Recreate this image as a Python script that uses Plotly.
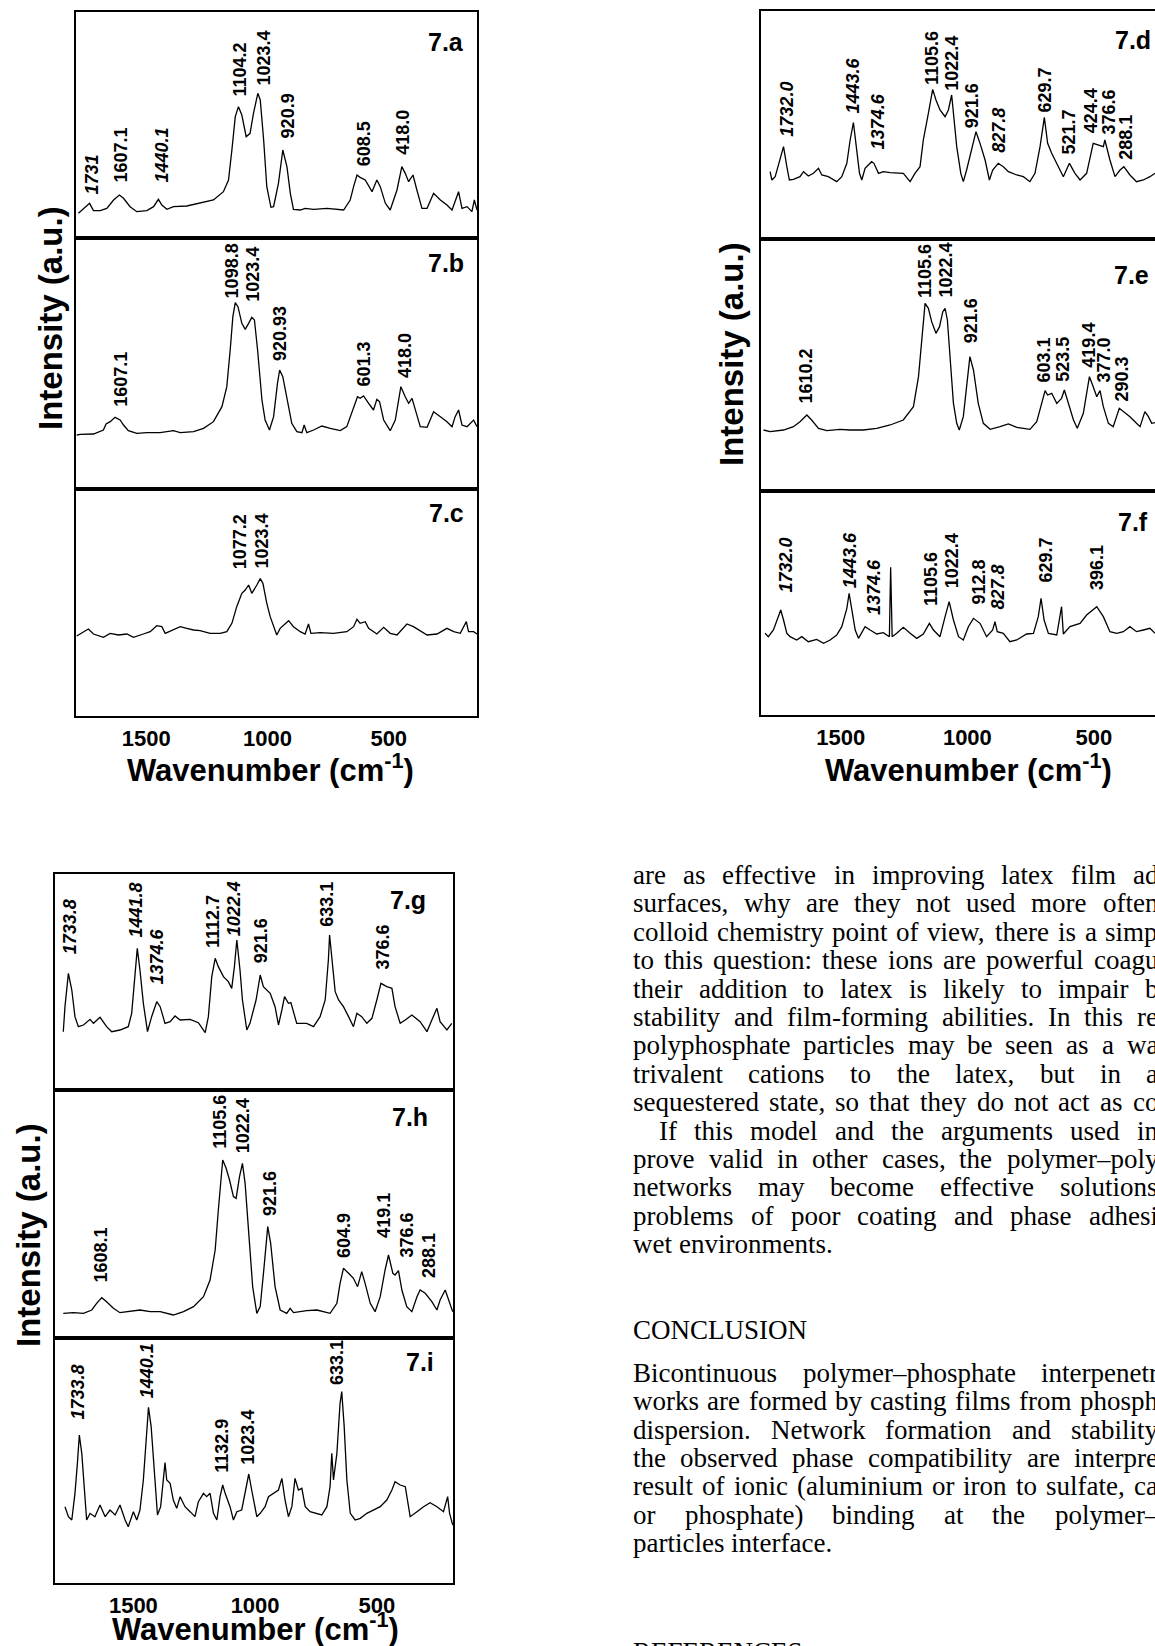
import plotly.graph_objects as go

# ---------------- spectra data (wavenumber, intensity a.u.) ----------------
A_WN = [1780, 1734, 1718, 1690, 1663, 1649, 1635, 1611, 1594, 1567, 1539, 1498, 1470, 1450, 1436, 1415, 1388, 1333, 1278, 1223,
        1182, 1161, 1147, 1133, 1120, 1106, 1088, 1072, 1058, 1040, 1030, 1016, 1003, 986, 975, 955, 937, 920, 906, 893,
        865, 845, 810, 755, 686, 659, 645, 631, 618, 597, 569, 549, 535, 514, 494, 466, 446, 432, 418, 400,
        384, 363, 342, 315, 287, 260, 239, 226, 212, 198, 177, 157, 147, 136]
A_INT = [74, 104, 82, 82, 89, 102, 114, 129, 119, 94, 79, 82, 94, 116, 99, 86, 94, 96, 104, 114,
         139, 174, 264, 364, 394, 369, 304, 314, 374, 434, 414, 294, 154, 92, 94, 164, 264, 214, 134, 86,
         84, 89, 86, 89, 84, 114, 154, 189, 182, 174, 139, 174, 154, 104, 84, 144, 214, 194, 169, 189,
         144, 89, 89, 134, 114, 99, 84, 114, 139, 89, 94, 79, 114, 84]

B_WN = [1787, 1773, 1718, 1677, 1666, 1649, 1629, 1608, 1594, 1574, 1539, 1498, 1443, 1388, 1360, 1305, 1264, 1223, 1188, 1168,
        1154, 1143, 1133, 1122, 1106, 1092, 1078, 1065, 1054, 1041, 1023, 1010, 992, 975, 959, 950, 937, 920, 900, 879,
        858, 849, 838, 810, 776, 741, 700, 673, 645, 629, 618, 604, 583, 563, 549, 538, 521, 494, 473, 459,
        450, 432, 418, 404, 391, 370, 342, 315, 287, 260, 239, 226, 212, 198, 177, 150, 136]
B_INT = [162, 164, 165, 177, 195, 202, 215, 207, 192, 175, 167, 169, 169, 175, 169, 172, 182, 202, 247, 307,
         417, 517, 559, 547, 497, 479, 497, 515, 507, 417, 267, 207, 177, 217, 317, 357, 337, 267, 197, 172,
         169, 192, 169, 177, 189, 182, 175, 187, 247, 277, 272, 279, 257, 237, 269, 262, 207, 175, 207, 277,
         307, 277, 257, 272, 237, 187, 185, 232, 217, 202, 187, 217, 237, 192, 187, 207, 187]

C_WN = [1787, 1773, 1739, 1718, 1677, 1649, 1615, 1580, 1553, 1512, 1484, 1457, 1436, 1422, 1388, 1360, 1333, 1305, 1278, 1237,
        1195, 1168, 1147, 1127, 1106, 1092, 1078, 1065, 1044, 1030, 1019, 1003, 989, 975, 962, 948, 913, 893, 865, 845,
        831, 821, 783, 728, 673, 645, 631, 618, 597, 583, 549, 521, 494, 466, 439, 425, 398, 370, 342, 301,
        260, 232, 205, 180, 171, 150, 136]
C_INT = [240, 246, 261, 246, 236, 248, 243, 246, 236, 246, 253, 271, 268, 248, 260, 268, 263, 258, 256, 248,
         248, 253, 278, 328, 368, 378, 393, 368, 393, 412, 398, 338, 298, 268, 243, 263, 286, 268, 253, 246,
         276, 248, 250, 248, 253, 268, 290, 278, 283, 263, 246, 266, 248, 243, 263, 276, 268, 256, 243, 246,
         263, 253, 248, 283, 253, 253, 246]

D_WN = [1779, 1772, 1759, 1746, 1726, 1713, 1703, 1687, 1661, 1647, 1628, 1608, 1588, 1575, 1549, 1516, 1496, 1476, 1463, 1450,
        1440, 1426, 1417, 1404, 1378, 1369, 1351, 1332, 1305, 1279, 1253, 1226, 1207, 1187, 1174, 1154, 1137, 1124, 1108, 1088,
        1075, 1062, 1053, 1042, 1026, 1016, 1003, 983, 966, 950, 930, 913, 900, 878, 858, 838, 805, 779, 753, 733,
        713, 696, 683, 667, 647, 621, 597, 575, 555, 529, 503, 483, 463, 457, 437, 417, 397, 382, 358, 332,
        305, 279, 259]
D_INT = [202, 177, 187, 222, 277, 217, 177, 179, 187, 202, 189, 197, 212, 192, 187, 172, 187, 227, 297, 349,
         287, 197, 177, 212, 232, 227, 197, 202, 199, 197, 197, 172, 197, 217, 297, 377, 449, 417, 387, 367,
         387, 432, 357, 277, 197, 172, 207, 272, 322, 287, 237, 177, 207, 227, 217, 202, 192, 187, 172, 197,
         277, 365, 287, 257, 227, 187, 227, 197, 177, 197, 287, 282, 277, 297, 237, 187, 207, 217, 192, 172,
         177, 187, 197]

E_WN = [1805, 1779, 1726, 1687, 1661, 1634, 1615, 1588, 1555, 1503, 1463, 1411, 1358, 1305, 1253, 1213, 1193, 1180, 1167, 1154,
        1141, 1124, 1110, 1097, 1088, 1079, 1068, 1055, 1042, 1032, 1016, 1003, 990, 976, 957, 937, 910, 871, 838, 805,
        753, 726, 706, 693, 683, 667, 647, 628, 617, 601, 581, 566, 542, 529, 518, 503, 489, 476, 463, 443,
        424, 400, 384, 358, 332, 318, 299, 285, 272, 259]
E_INT = [183, 178, 183, 193, 208, 228, 213, 188, 181, 185, 183, 183, 188, 198, 213, 253, 343, 453, 563, 548,
         508, 473, 493, 538, 548, 513, 403, 263, 203, 183, 223, 323, 403, 363, 263, 203, 185, 193, 201, 191,
         185, 208, 263, 301, 288, 293, 263, 278, 303, 263, 213, 188, 233, 293, 343, 313, 283, 301, 253, 203,
         193, 248, 238, 223, 203, 193, 238, 223, 203, 205]

F_WN = [1799, 1786, 1766, 1753, 1737, 1726, 1713, 1700, 1674, 1654, 1628, 1595, 1568, 1542, 1516, 1496, 1476, 1467, 1457, 1443,
        1430, 1404, 1384, 1358, 1332, 1308, 1303, 1297, 1279, 1253, 1226, 1200, 1174, 1150, 1134, 1108, 1088, 1072, 1055, 1035,
        1016, 996, 976, 950, 924, 900, 891, 882, 858, 832, 805, 766, 739, 720, 709, 697, 680, 647, 628, 621,
        595, 555, 529, 489, 463, 437, 410, 384, 358, 332, 305, 279, 259]
F_INT = [245, 235, 255, 280, 315, 285, 245, 235, 225, 235, 220, 227, 215, 225, 240, 265, 320, 365, 315, 255,
         230, 265, 255, 243, 247, 235, 443, 235, 245, 263, 245, 230, 243, 275, 255, 235, 295, 340, 285, 235,
         225, 265, 290, 275, 235, 255, 280, 250, 245, 220, 225, 243, 245, 295, 350, 285, 245, 240, 325, 243,
         265, 275, 300, 325, 295, 250, 245, 250, 265, 250, 255, 260, 245]

G_WN = [1788, 1781, 1767, 1753, 1740, 1726, 1705, 1678, 1664, 1637, 1610, 1589, 1555, 1521, 1507, 1493, 1484, 1473, 1459, 1442,
        1425, 1404, 1390, 1370, 1349, 1329, 1308, 1267, 1233, 1205, 1192, 1178, 1164, 1151, 1130, 1110, 1096, 1085, 1075, 1062,
        1052, 1034, 1021, 996, 979, 966, 938, 918, 904, 890, 879, 863, 853, 829, 788, 760, 733, 712, 699, 694,
        685, 671, 657, 637, 616, 596, 582, 562, 541, 520, 500, 483, 459, 438, 425, 404, 383, 356, 322, 294,
        274, 253, 240, 212, 192]
G_INT = [175, 250, 350, 300, 220, 190, 195, 212, 200, 218, 190, 175, 180, 190, 230, 340, 425, 360, 260, 175,
         220, 265, 250, 200, 205, 222, 210, 212, 202, 172, 220, 340, 395, 370, 340, 325, 305, 370, 450, 360,
         270, 180, 200, 270, 345, 310, 290, 250, 195, 240, 280, 260, 262, 200, 200, 190, 220, 270, 390, 465,
         390, 295, 270, 250, 220, 190, 230, 220, 200, 215, 270, 320, 310, 305, 250, 200, 210, 225, 205, 175,
         210, 245, 205, 180, 200]

H_WN = [1788, 1747, 1705, 1671, 1651, 1630, 1610, 1582, 1555, 1514, 1473, 1431, 1390, 1336, 1294, 1253, 1212, 1185, 1164, 1151,
        1133, 1119, 1105, 1089, 1078, 1064, 1052, 1041, 1027, 1010, 993, 979, 963, 948, 936, 918, 897, 870, 856, 842,
        788, 746, 692, 664, 651, 637, 616, 596, 579, 562, 548, 527, 507, 486, 466, 452, 434, 425, 411, 397,
        377, 356, 335, 322, 301, 274, 253, 240, 219, 205, 188]
H_INT = [74, 76, 74, 84, 104, 121, 109, 89, 76, 79, 84, 79, 79, 69, 79, 94, 124, 174, 264, 384,
         534, 509, 474, 424, 419, 484, 524, 464, 334, 154, 74, 94, 214, 334, 284, 154, 84, 74, 89, 76,
         82, 84, 74, 104, 164, 209, 194, 179, 154, 199, 164, 104, 79, 124, 204, 249, 194, 189, 202, 144,
         94, 79, 124, 144, 134, 109, 84, 114, 144, 114, 79]

I_WN = [1781, 1767, 1753, 1740, 1730, 1722, 1712, 1703, 1692, 1678, 1658, 1637, 1616, 1596, 1575, 1555, 1534, 1521, 1500, 1486,
        1473, 1459, 1448, 1438, 1427, 1415, 1401, 1388, 1377, 1370, 1363, 1349, 1336, 1322, 1308, 1288, 1267, 1247, 1233, 1212,
        1199, 1185, 1171, 1157, 1144, 1133, 1123, 1103, 1089, 1075, 1055, 1037, 1026, 1014, 993, 979, 959, 945, 925, 904,
        890, 877, 863, 849, 836, 822, 808, 794, 774, 746, 726, 705, 692, 685, 678, 664, 651, 644, 634, 623,
        609, 589, 568, 541, 514, 486, 459, 438, 425, 404, 383, 363, 335, 308, 281, 253, 226, 209, 201, 188]
I_INT = [229, 199, 189, 269, 359, 444, 389, 289, 189, 209, 199, 234, 199, 219, 204, 234, 189, 169, 214, 189,
         219, 309, 439, 527, 469, 339, 204, 229, 319, 361, 309, 299, 249, 224, 259, 229, 214, 199, 244, 269,
         259, 269, 209, 189, 259, 294, 269, 229, 189, 214, 219, 289, 327, 279, 199, 209, 229, 259, 269, 279,
         314, 249, 199, 229, 314, 279, 284, 229, 214, 209, 204, 229, 289, 389, 309, 389, 539, 574, 469, 309,
         209, 189, 194, 209, 219, 229, 249, 279, 304, 294, 289, 199, 214, 229, 241, 229, 214, 259, 209, 174]

# ---------------- peak labels ----------------
A_LBL = ["1731", "1607.1", "1440.1", "1104.2", "1023.4", "920.9", "608.5", "418.0"]
A_LBL_WN = [1725, 1608, 1439, 1113, 1016, 916, 604, 439]
A_LBL_Y = [124, 159, 159, 419, 452, 294, 209, 244]
A_ITAL = [1, 0, 1, 0, 0, 0, 0, 0]

B_LBL = ["1607.1", "1098.8", "1023.4", "920.93", "601.3", "418.0"]
B_LBL_WN = [1605, 1147, 1060, 948, 603, 435]
B_LBL_Y = [242, 567, 557, 377, 302, 327]
B_ITAL = [0, 0, 0, 0, 0, 0]

C_LBL = ["1077.2", "1023.4"]
C_LBL_WN = [1113, 1023]
C_LBL_Y = [433, 438]
C_ITAL = [0, 0]

D_LBL = ["1732.0", "1443.6", "1374.6", "1105.6", "1022.4", "921.6", "827.8", "629.7", "521.7", "424.4", "376.6", "288.1"]
D_LBL_WN = [1713, 1450, 1354, 1137, 1062, 979, 874, 693, 595, 509, 439, 371]
D_LBL_Y = [302, 372, 262, 455, 439, 327, 252, 372, 249, 312, 307, 232]
D_ITAL = [1, 1, 1, 0, 0, 0, 1, 0, 0, 0, 0, 0]

E_LBL = ["1610.2", "1105.6", "1022.4", "921.6", "603.1", "523.5", "419.4", "377.0", "290.3"]
E_LBL_WN = [1641, 1167, 1088, 987, 701, 623, 523, 464, 391]
E_LBL_Y = [255, 573, 573, 438, 318, 323, 363, 318, 263]
E_ITAL = [0, 0, 0, 0, 0, 0, 0, 0, 0]

F_LBL = ["1732.0", "1443.6", "1374.6", "1105.6", "1022.4", "912.8", "827.8", "629.7", "396.1"]
F_LBL_WN = [1720, 1463, 1371, 1141, 1062, 953, 878, 693, 489]
F_LBL_Y = [360, 375, 295, 320, 375, 325, 310, 390, 370]
F_ITAL = [1, 1, 1, 0, 0, 0, 1, 0, 0]

G_LBL = ["1733.8", "1441.8", "1374.6", "1112.7", "1022.4", "921.6", "633.1", "376.6"]
G_LBL_WN = [1760, 1493, 1404, 1175, 1089, 977, 705, 473]
G_LBL_Y = [400, 450, 310, 420, 455, 375, 485, 355]
G_ITAL = [1, 1, 1, 0, 1, 0, 0, 0]

H_LBL = ["1608.1", "1105.6", "1022.4", "921.6", "604.9", "419.1", "376.6", "288.1"]
H_LBL_WN = [1637, 1144, 1051, 938, 637, 473, 380, 288]
H_LBL_Y = [159, 562, 549, 359, 234, 294, 234, 174]
H_ITAL = [0, 0, 0, 0, 0, 0, 0, 0]

I_LBL = ["1733.8", "1440.1", "1132.9", "1023.4", "633.1"]
I_LBL_WN = [1726, 1445, 1137, 1027, 664]
I_LBL_Y = [484, 549, 324, 349, 589]
I_ITAL = [1, 1, 0, 0, 0]

PANEL_TAGS = ["7.a", "7.b", "7.c", "7.d", "7.e", "7.f", "7.g", "7.h", "7.i"]
TAG_WN = [262, 262, 262, 345, 351, 345, 370, 363, 322]
TAG_Y = [589, 677, 608, 597, 648, 580, 570, 664, 664]

TICK_VALS = [1500, 1000, 500]
TICK_TEXT = ["1500", "1000", "500"]
X_TITLE = "Wavenumber (cm<sup>-1</sup>)"
Y_TITLE = "Intensity (a.u.)"

BODY_LINES = [
    "are as effective in improving latex film ad",
    "surfaces, why are they not used more often",
    "colloid chemistry point of view, there is a simp",
    "to this question: these ions are powerful coagu",
    "their addition to latex is likely to impair b",
    "stability and film-forming abilities. In this re",
    "polyphosphate particles may be seen as a wa",
    "trivalent cations to the latex, but in a",
    "sequestered state, so that they do not act as co",
    "If this model and the arguments used in",
    "prove valid in other cases, the polymer\u2013poly",
    "networks may become effective solutions",
    "problems of poor coating and phase adhesi",
    "wet environments.",
]
BODY_JUSTIFIED = [1, 1, 1, 1, 1, 1, 1, 1, 1, 1, 1, 1, 1, 0]
HEADING = "CONCLUSION"
CONCL_LINES = [
    "Bicontinuous polymer\u2013phosphate interpenetr",
    "works are formed by casting films from phosph",
    "dispersion. Network formation and stability",
    "the observed phase compatibility are interpre",
    "result of ionic (aluminium or iron to sulfate, ca",
    "or phosphate) binding at the polymer\u2013",
    "particles interface.",
]
CONCL_JUSTIFIED = [1, 1, 1, 1, 1, 1, 0]
REF_HEADING = "REFERENCES"

# ---------------- layout geometry ----------------
W, H = 1155, 1646
def px(x):
    return x / W
def py(y):
    return 1 - y / H

# Times / Liberation Serif advance widths (per 1000 em) for justified text placement
_lower = dict(zip("abcdefghijklmnopqrstuvwxyz",
                  [444, 500, 444, 500, 444, 333, 500, 500, 278, 278, 500, 278, 778,
                   500, 500, 500, 500, 333, 389, 278, 500, 500, 722, 500, 500, 444]))
_upper = dict(zip("ABCDEFGHIJKLMNOPQRSTUVWXYZ",
                  [722, 667, 667, 722, 611, 556, 722, 722, 333, 389, 722, 611, 889,
                   722, 722, 556, 722, 667, 556, 611, 722, 722, 944, 722, 722, 611]))
_punct = {" ": 250, ",": 250, ".": 250, ":": 278, ";": 278, "-": 333, "(": 333, ")": 333,
          "\u2013": 500, "?": 444}
SERIF_W = {**_lower, **_upper, **_punct}
for d in "0123456789":
    SERIF_W[d] = 500

def serif_width(s, size):
    return sum(SERIF_W.get(c, 500) for c in s) * size / 1000.0

PANELS = [
    (A_WN, A_INT, A_LBL, A_LBL_WN, A_LBL_Y, A_ITAL),
    (B_WN, B_INT, B_LBL, B_LBL_WN, B_LBL_Y, B_ITAL),
    (C_WN, C_INT, C_LBL, C_LBL_WN, C_LBL_Y, C_ITAL),
    (D_WN, D_INT, D_LBL, D_LBL_WN, D_LBL_Y, D_ITAL),
    (E_WN, E_INT, E_LBL, E_LBL_WN, E_LBL_Y, E_ITAL),
    (F_WN, F_INT, F_LBL, F_LBL_WN, F_LBL_Y, F_ITAL),
    (G_WN, G_INT, G_LBL, G_LBL_WN, G_LBL_Y, G_ITAL),
    (H_WN, H_INT, H_LBL, H_LBL_WN, H_LBL_Y, H_ITAL),
    (I_WN, I_INT, I_LBL, I_LBL_WN, I_LBL_Y, I_ITAL),
]

GROUPS = [
    dict(x0=76, x1=477, rng=[1790, 136], rows=[(12, 238), (238, 489), (489, 716)],
         ymirror=True, xtitle=(270, 768), ytitle=(51, 318)),
    dict(x0=761, x1=1155, rng=[1815, 259], rows=[(11, 239), (239, 491), (491, 715)],
         ymirror=False, xtitle=(968, 768), ytitle=(732, 354)),
    dict(x0=55, x1=453, rng=[1822, 187], rows=[(874, 1090), (1090, 1338), (1338, 1583)],
         ymirror=True, xtitle=(255, 1627), ytitle=(28, 1235)),
]

SANS = "Liberation Sans, Arial, sans-serif"
SERIF = "Liberation Serif, Times New Roman, serif"
BODY_SIZE = 27

fig = go.Figure()
layout = dict(width=W, height=H, margin=dict(l=0, r=0, t=0, b=0),
              paper_bgcolor="white", plot_bgcolor="white", showlegend=False)
annotations = []

n = 0
for g in GROUPS:
    for r, (top, bot) in enumerate(g["rows"]):
        n += 1
        wn, inten, lbl, lwn, ly, ital = PANELS[n - 1]
        sfx = "" if n == 1 else str(n)
        fig.add_trace(go.Scatter(x=wn, y=inten, mode="lines",
                                 line=dict(color="black", width=1.3),
                                 xaxis="x" + sfx, yaxis="y" + sfx,
                                 hoverinfo="skip"))
        xa = dict(domain=[px(g["x0"]), min(1.0, px(g["x1"]))], range=g["rng"],
                  anchor="y" + sfx, showgrid=False, zeroline=False,
                  showline=True, mirror=True, linecolor="black", linewidth=1.7,
                  ticks="", showticklabels=False)
        if r == 2:
            xa.update(showticklabels=True, tickmode="array", tickvals=TICK_VALS, ticktext=TICK_TEXT,
                      ticklabelstandoff=2,
                      tickfont=dict(family=SANS, size=22, color="black", weight="bold"))
        layout["xaxis" + sfx] = xa
        layout["yaxis" + sfx] = dict(
            domain=[py(bot), py(top)], range=[0, 3 * (bot - top)],
            anchor="x" + sfx, showgrid=False, zeroline=False,
            showline=True, mirror=g["ymirror"], linecolor="black", linewidth=1.7,
            ticks="", showticklabels=False)
        for t, xw, yv, it in zip(lbl, lwn, ly, ital):
            txt = "<b>%s</b>" % t
            if it:
                txt = "<i>%s</i>" % txt
            annotations.append(dict(xref="x" + sfx, yref="y" + sfx, x=xw, y=yv,
                                    text=txt, textangle=-90, showarrow=False,
                                    xanchor="center", yanchor="bottom",
                                    font=dict(family=SANS, size=18, color="black")))
        annotations.append(dict(xref="x" + sfx, yref="y" + sfx,
                                x=TAG_WN[n - 1], y=TAG_Y[n - 1],
                                text="<b>%s</b>" % PANEL_TAGS[n - 1], showarrow=False,
                                xanchor="center", yanchor="middle",
                                font=dict(family=SANS, size=25, color="black")))
    annotations.append(dict(xref="paper", yref="paper", x=px(g["xtitle"][0]), y=py(g["xtitle"][1]),
                            text="<b>%s</b>" % X_TITLE, showarrow=False,
                            xanchor="center", yanchor="middle",
                            font=dict(family=SANS, size=31, color="black")))
    annotations.append(dict(xref="paper", yref="paper", x=px(g["ytitle"][0]), y=py(g["ytitle"][1]),
                            text="<b>%s</b>" % Y_TITLE, showarrow=False, textangle=-90,
                            xanchor="center", yanchor="middle",
                            font=dict(family=SANS, size=33, color="black")))

# ---------------- body text (justified, cut by the page edge) ----------------
RIGHT_EDGE = 1158

def add_line(line, x0, yc, justified):
    words = line.split(" ")
    widths = [serif_width(w_, BODY_SIZE) for w_ in words]
    if justified and len(words) > 1:
        gap = (RIGHT_EDGE - x0 - sum(widths)) / (len(words) - 1)
    else:
        gap = serif_width(" ", BODY_SIZE)
    x = x0
    for w_, wd in zip(words, widths):
        annotations.append(dict(xref="paper", yref="paper", x=px(x - 1), y=py(yc),
                                text=w_, showarrow=False, xanchor="left", yanchor="middle",
                                borderpad=0, font=dict(family=SERIF, size=BODY_SIZE, color="black")))
        x += wd + gap

for k, (line, j) in enumerate(zip(BODY_LINES, BODY_JUSTIFIED)):
    x0 = 659 if line.startswith("If this") else 633
    add_line(line, x0, 875 + 28.4 * k, j)
add_line(HEADING, 633, 1330, 0)
for k, (line, j) in enumerate(zip(CONCL_LINES, CONCL_JUSTIFIED)):
    add_line(line, 633, 1373 + 28.3 * k, j)
add_line(REF_HEADING, 633, 1652, 0)

layout["annotations"] = annotations
fig.update_layout(**layout)

fig.write_html("out.html", config={"displayModeBar": False, "staticPlot": True},
               post_script="document.body.style.margin='0';document.body.style.overflow='hidden';")
